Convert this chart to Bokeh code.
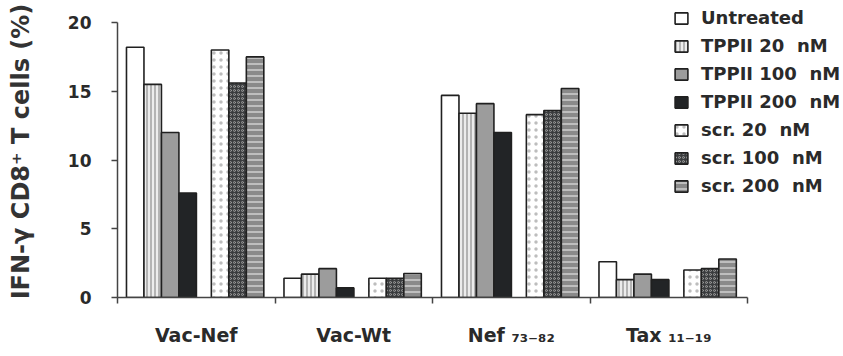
from bokeh.plotting import figure
from bokeh.models import (ColumnDataSource, FixedTicker, Legend, LegendItem, Range1d)
from bokeh.embed import file_html
from bokeh.resources import INLINE

categories = ["Vac-Nef", "Vac-Wt", "Nef \u2087\u2083\u208b\u2088\u2082", "Tax \u2081\u2081\u208b\u2081\u2089"]
series_names = ["Untreated", "TPPII 20  nM", "TPPII 100  nM", "TPPII 200  nM",
                "scr. 20  nM", "scr. 100  nM", "scr. 200  nM"]
untreated = [18.2, 1.4, 14.7, 2.6]
tppii_20 = [15.5, 1.7, 13.4, 1.3]
tppii_100 = [12.0, 2.1, 14.1, 1.7]
tppii_200 = [7.6, 0.7, 12.0, 1.3]
scr_20 = [18.0, 1.4, 13.3, 2.0]
scr_100 = [15.6, 1.4, 13.6, 2.1]
scr_200 = [17.5, 1.75, 15.2, 2.8]
y_ticks = [0, 5, 10, 15, 20]

series_values = [untreated, tppii_20, tppii_100, tppii_200, scr_20, scr_100, scr_200]

styles = [
    dict(fill_color="white", hatch_pattern=None),
    dict(fill_color="#ececec", hatch_pattern="|", hatch_color="#7a7a7a", hatch_scale=4, hatch_weight=1),
    dict(fill_color="#9c9c9c", hatch_pattern=None),
    dict(fill_color="#222426", hatch_pattern=None),
    dict(fill_color="white", hatch_pattern=".", hatch_color="#bdbdbd", hatch_scale=7, hatch_weight=1),
    dict(fill_color="#3a3c3e", hatch_pattern="o", hatch_color="#9a9a9a", hatch_scale=4, hatch_weight=1),
    dict(fill_color="#8a8a8a", hatch_pattern="-", hatch_color="#cfcfcf", hatch_scale=6, hatch_weight=1.5),
]

bar_w = 0.111
left_pad = 0.057
gap = 0.095

W, H = 843, 356
frame_left, frame_top, frame_bottom = 117, 5, 297
px_per_cat = (747 - 117) / 4.0
px_per_unit = (297 - 22) / 20.0

p = figure(width=W, height=H, output_backend="svg", toolbar_location=None,
           x_range=Range1d(0, (W - frame_left) / px_per_cat),
           y_range=Range1d(0, (frame_bottom - frame_top) / px_per_unit),
           min_border_left=frame_left, min_border_right=0, min_border_top=frame_top,
           min_border_bottom=H - frame_bottom)
p.outline_line_color = None
p.grid.visible = False
p.background_fill_color = "white"

renderers = []
for j, (vals, st) in enumerate(zip(series_values, styles)):
    off = left_pad + j * bar_w + (gap if j >= 4 else 0) + bar_w / 2
    xs = [i + off for i in range(len(categories))]
    src = ColumnDataSource(dict(x=xs, top=vals))
    kw = dict(st)
    if kw.get("hatch_pattern") is None:
        kw.pop("hatch_pattern")
    r = p.vbar(x="x", top="top", bottom=0, width=bar_w, source=src,
               line_color="#202020", line_width=1.6, **kw)
    renderers.append(r)

xa = p.xaxis[0]
xa.bounds = (0, len(categories))
xa.ticker = FixedTicker(ticks=[i + 0.5 for i in range(len(categories))],
                        minor_ticks=list(range(len(categories) + 1)))
xa.major_label_overrides = {i + 0.5: c for i, c in enumerate(categories)}
xa.major_tick_line_color = None
xa.minor_tick_in = 0
xa.minor_tick_out = 6
xa.minor_tick_line_color = "#444444"
xa.minor_tick_line_width = 1.5
xa.axis_line_color = "#444444"
xa.axis_line_width = 1.5
xa.major_label_standoff = 20
xa.major_label_text_font = "DejaVu Sans"
xa.major_label_text_font_style = "bold"
xa.major_label_text_font_size = "19px"
xa.major_label_text_color = "#2a2a2a"

ya = p.yaxis[0]
ya.bounds = (0, 20)
ya.ticker = FixedTicker(ticks=y_ticks, minor_ticks=[])
ya.major_tick_in = 0
ya.major_tick_out = 6
ya.major_tick_line_color = "#444444"
ya.major_tick_line_width = 1.5
ya.axis_line_color = "#444444"
ya.axis_line_width = 1.5
ya.major_label_standoff = 20
ya.major_label_text_font = "DejaVu Sans"
ya.major_label_text_font_style = "bold"
ya.major_label_text_font_size = "17px"
ya.major_label_text_color = "#2a2a2a"
ya.axis_label = "IFN-\u03b3 CD8\u207a T cells (%)"
ya.axis_label_text_font = "DejaVu Sans"
ya.axis_label_text_font_style = "bold"
ya.axis_label_text_font_size = "24px"
ya.axis_label_text_color = "#333333"
ya.axis_label_standoff = 30

legend = Legend(items=[LegendItem(label=n, renderers=[r]) for n, r in zip(series_names, renderers)],
                location=(556, 101))
legend.border_line_color = None
legend.background_fill_alpha = 0
legend.padding = 0
legend.margin = 0
legend.spacing = 7
legend.glyph_width = 16
legend.glyph_height = 14
legend.label_height = 20
legend.label_standoff = 12
legend.label_text_font = "DejaVu Sans"
legend.label_text_font_style = "bold"
legend.label_text_font_size = "18px"
legend.label_text_color = "#2a2a2a"
legend.label_text_baseline = "middle"
p.add_layout(legend, "center")

open("out.html", "w").write(file_html(p, INLINE))
